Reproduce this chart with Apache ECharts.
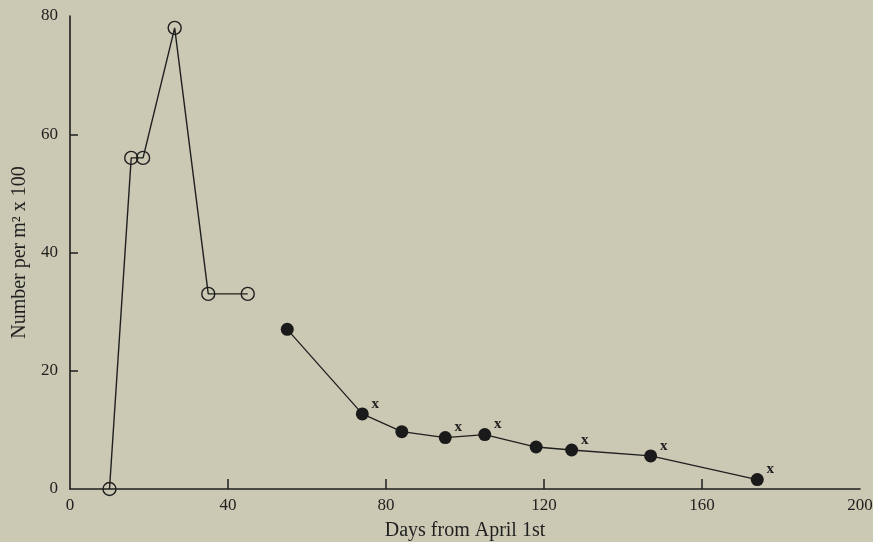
<!DOCTYPE html>
<html>
<head>
<meta charset="utf-8">
<script src="https://cdn.jsdelivr.net/npm/echarts@6/dist/echarts.min.js"></script>
<style>
  html, body { margin: 0; padding: 0; background: #cbc8b3; }
  #chart { width: 873px; height: 542px; }
</style>
</head>
<body>
<div id="chart"></div>
<script>
// Open-circle series (early season)
const openDays = [10, 15.5, 18.5, 26.5, 35, 45];
const openValues = [0, 56, 56, 78, 33, 33];

// Filled-circle series (later season)
const filledDays = [55, 74, 84, 95, 105, 118, 127, 147, 174];
const filledValues = [27, 12.7, 9.7, 8.7, 9.2, 7.1, 6.6, 5.6, 1.6];
// points that carry an "x" mark
const filledMarked = [false, true, false, true, true, false, true, true, true];

// Axis ticks
const xTicks = [0, 40, 80, 120, 160, 200];
const yTicks = [0, 20, 40, 60, 80];

const ink = '#1f1f1f';
const serif = '"Liberation Serif", "DejaVu Serif", serif';

const chart = echarts.init(document.getElementById('chart'));

const openData = openDays.map((d, i) => [d, openValues[i]]);
const filledData = filledDays.map((d, i) => {
  const item = { value: [d, filledValues[i]] };
  if (filledMarked[i]) {
    item.label = {
      show: true,
      formatter: 'x',
      position: 'inside',
      offset: [13, -10],
      color: ink,
      fontFamily: serif,
      fontWeight: 'bold',
      fontSize: 15
    };
  }
  return item;
});

chart.setOption({
  backgroundColor: '#cbc8b3',
  animation: false,
  grid: { left: 70, right: 13, top: 16, bottom: 53, outerBoundsMode: 'none', containLabel: false },
  xAxis: {
    type: 'value',
    min: xTicks[0],
    max: xTicks[xTicks.length - 1],
    interval: 40,
    name: 'Days from April 1st',
    nameLocation: 'middle',
    nameGap: 32,
    nameTextStyle: { color: ink, fontFamily: serif, fontSize: 20 },
    axisLine: { show: true, lineStyle: { color: ink, width: 1.6 } },
    axisTick: { show: true, inside: true, length: 10, customValues: xTicks.slice(1, -1), lineStyle: { color: ink, width: 1.5 } },
    axisLabel: { color: ink, fontFamily: serif, fontSize: 17, margin: 8 },
    splitLine: { show: false }
  },
  yAxis: {
    type: 'value',
    min: yTicks[0],
    max: yTicks[yTicks.length - 1],
    interval: 20,
    name: 'Number per m² x 100',
    nameLocation: 'middle',
    nameGap: 40,
    nameTextStyle: { color: ink, fontFamily: serif, fontSize: 20 },
    axisLine: { show: true, lineStyle: { color: ink, width: 1.6 } },
    axisTick: { show: true, inside: true, length: 8, customValues: yTicks.slice(1, -1), lineStyle: { color: ink, width: 1.5 } },
    axisLabel: { color: ink, fontFamily: serif, fontSize: 17, margin: 12 },
    splitLine: { show: false }
  },
  series: [
    {
      type: 'line',
      data: openData,
      symbol: 'circle',
      symbolSize: 13,
      showAllSymbol: true,
      lineStyle: { color: ink, width: 1.4 },
      itemStyle: { color: 'rgba(0,0,0,0)', borderColor: ink, borderWidth: 1.4 },
      z: 3
    },
    {
      type: 'line',
      data: filledData,
      symbol: 'circle',
      symbolSize: 13,
      showAllSymbol: true,
      lineStyle: { color: ink, width: 1.3 },
      itemStyle: { color: '#1a1a1a', borderColor: '#1a1a1a', borderWidth: 0 },
      z: 3
    }
  ]
});
</script>
</body>
</html>
